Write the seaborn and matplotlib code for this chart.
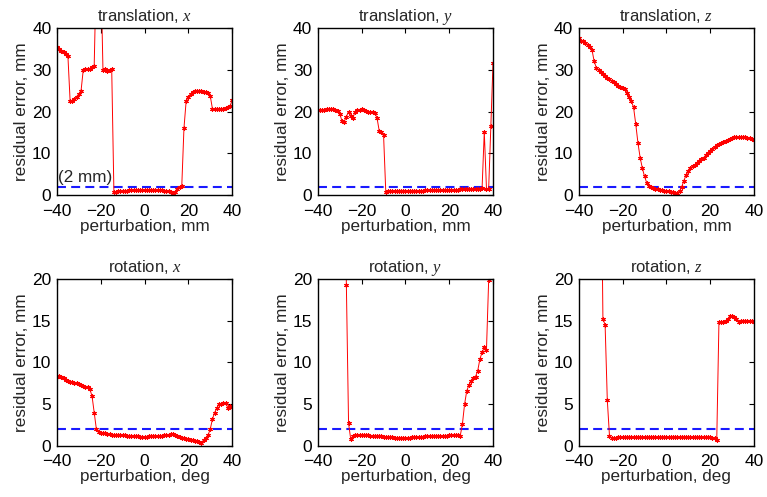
import matplotlib
matplotlib.use("Agg")
import matplotlib.pyplot as plt
import numpy as np
import pandas as pd
import seaborn as sns

# perturbation grid shared by all six panels (mm or deg)
perturbation = list(range(-40, 41))

trans_x = [35.5, 35.0, 34.6, 34.2, 33.8, 33.2, 22.5, 22.6, 23.0, 23.6,
           24.2, 25.0, 30.0, 30.1, 30.1, 30.3, 30.6, 31.0, 55.0, 60.0,
           55.0, 30.0, 30.1, 29.7, 30.0, 30.1, 0.8, 0.8, 0.9, 1.0,
           1.0, 1.1, 1.1, 1.2, 1.2, 1.2, 1.2, 1.2, 1.2, 1.2,
           1.2, 1.2, 1.2, 1.2, 1.2, 1.2, 1.2, 1.2, 1.2, 1.1,
           1.1, 1.0, 0.7, 0.4, 0.8, 1.5, 2.0, 2.1, 16.0, 22.5,
           23.5, 24.2, 24.7, 25.0, 25.0, 25.0, 25.0, 24.8, 24.6, 24.5,
           23.8, 20.7, 20.5, 20.5, 20.5, 20.5, 20.6, 20.8, 21.0, 21.3,
           22.7]

trans_y = [20.3, 20.3, 20.3, 20.4, 20.5, 20.5, 20.5, 20.5, 20.4, 20.2,
           19.5, 17.7, 17.6, 18.8, 20.0, 19.0, 18.5, 20.0, 20.3, 20.4,
           20.5, 20.3, 20.2, 20.0, 19.9, 19.8, 19.6, 18.5, 15.4, 15.0,
           14.3, 0.8, 1.0, 1.0, 1.0, 1.0, 1.0, 1.1, 1.1, 1.1,
           1.1, 1.1, 1.1, 1.1, 1.1, 1.1, 1.1, 1.1, 1.1, 1.2,
           1.2, 1.2, 1.2, 1.2, 1.2, 1.2, 1.2, 1.2, 1.2, 1.2,
           1.3, 1.3, 1.3, 1.3, 1.3, 1.4, 1.4, 1.4, 1.4, 1.5,
           1.5, 1.5, 1.5, 1.6, 1.6, 1.7, 15.2, 1.6, 1.5, 16.5,
           31.7]

trans_z = [37.5, 37.0, 36.8, 36.5, 36.0, 35.5, 34.8, 32.0, 30.5, 30.0,
           29.5, 29.0, 28.5, 28.0, 27.7, 27.3, 27.0, 26.6, 26.2, 26.0,
           25.6, 25.3, 24.5, 23.5, 22.5, 21.0, 17.0, 12.5, 9.0, 6.5,
           4.5, 3.0, 2.2, 2.0, 1.8, 1.6, 1.5, 1.3, 1.2, 1.1,
           1.0, 0.9, 0.8, 0.7, 0.6, 0.5, 1.0, 2.0, 3.5, 4.8,
           5.8, 6.5, 7.0, 7.3, 7.7, 8.2, 8.6, 9.0, 9.5, 10.0,
           10.5, 11.0, 11.6, 12.0, 12.3, 12.5, 12.8, 13.0, 13.2, 13.5,
           13.7, 13.9, 14.0, 14.0, 14.0, 14.0, 13.9, 13.8, 13.6, 13.5,
           13.3]

rot_x = [8.3, 8.4, 8.3, 8.1, 7.9, 7.8, 7.7, 7.6, 7.5, 7.5,
         7.4, 7.3, 7.2, 7.1, 7.0, 6.8, 6.0, 4.0, 2.0, 1.7,
         1.6, 1.5, 1.5, 1.4, 1.4, 1.35, 1.35, 1.3, 1.3, 1.3,
         1.3, 1.3, 1.25, 1.25, 1.25, 1.2, 1.2, 1.15, 1.1, 1.1,
         1.1, 1.1, 1.15, 1.15, 1.2, 1.2, 1.2, 1.25, 1.25, 1.3,
         1.3, 1.35, 1.4, 1.4, 1.3, 1.2, 1.1, 1.0, 0.9, 0.85,
         0.8, 0.75, 0.7, 0.65, 0.6, 0.5, 0.4, 0.7, 1.0, 1.3,
         2.0, 3.2, 4.0, 4.5, 5.0, 5.0, 5.2, 5.2, 4.6, 4.8,
         4.7]

rot_y = [40.0] * 13 + [19.2, 2.7, 0.8, 1.2, 1.3, 1.3, 1.3,
         1.3, 1.3, 1.3, 1.3, 1.25, 1.2, 1.2, 1.2, 1.15, 1.15,
         1.1, 1.1, 1.1, 1.05, 1.05, 1.0, 1.0, 1.0, 1.0, 1.0,
         1.0, 1.0, 1.0, 1.05, 1.05, 1.1, 1.1, 1.1, 1.1, 1.15,
         1.2, 1.2, 1.2, 1.2, 1.2, 1.2, 1.2, 1.25, 1.25, 1.25,
         1.3, 1.3, 1.3, 1.3, 1.3, 1.2, 2.6, 5.0, 6.6, 7.3,
         7.8, 8.1, 8.3, 9.0, 10.4, 11.2, 11.8, 11.5, 19.8, 40.0,
         40.0]

rot_z = [40.0] * 11 + [15.2, 14.5, 5.5, 1.2, 0.9, 1.0, 1.0, 1.1, 1.1] \
    + [1.1] * 40 + [
         1.05, 1.0, 0.9, 0.7, 14.8, 14.8, 14.8, 14.9, 15.2, 15.5,
         15.5, 15.4, 15.2, 14.8, 15.0, 15.0, 15.0, 15.0, 15.0, 14.9,
         14.8]

panels = [
    ("translation, $x$", trans_x, "perturbation, mm", 40, [0, 10, 20, 30, 40]),
    ("translation, $y$", trans_y, "perturbation, mm", 40, [0, 10, 20, 30, 40]),
    ("translation, $z$", trans_z, "perturbation, mm", 40, [0, 10, 20, 30, 40]),
    ("rotation, $x$", rot_x, "perturbation, deg", 20, [0, 5, 10, 15, 20]),
    ("rotation, $y$", rot_y, "perturbation, deg", 20, [0, 5, 10, 15, 20]),
    ("rotation, $z$", rot_z, "perturbation, deg", 20, [0, 5, 10, 15, 20]),
]
threshold = 2.0

sns.set_style("white")
plt.rcParams.update({
    "font.family": ["Liberation Sans", "DejaVu Sans"],
    "mathtext.fontset": "custom",
    "mathtext.it": "Liberation Serif:italic",
    "mathtext.rm": "Liberation Sans",
    "axes.edgecolor": "black",
    "axes.linewidth": 1.0,
})

fig, axes = plt.subplots(2, 3, figsize=(7.67, 4.97), dpi=100)
fig.subplots_adjust(left=0.0743, right=0.983, bottom=0.1026, top=0.9437,
                    wspace=0.49, hspace=0.50)

for ax, (title, values, xlabel, ymax, yticks) in zip(axes.flat, panels):
    df = pd.DataFrame({"perturbation": perturbation, "error": values})
    ax.axhline(threshold, color="#1a1aff", linestyle=(0, (4.3, 2.5)), linewidth=1.5)
    sns.lineplot(data=df, x="perturbation", y="error", ax=ax,
                 color="red", linewidth=0.7, marker=(6, 2, 0),
                 markersize=3.2, markeredgecolor="red", markeredgewidth=0.8)
    ax.set_xlim(-40, 40)
    ax.set_ylim(0, ymax)
    ax.set_xticks([-40, -20, 0, 20, 40])
    ax.set_yticks(yticks)
    ax.tick_params(direction="in", top=True, right=True, length=3.5,
                   width=0.8, labelsize=12.5, colors="black")
    ax.tick_params(axis="x", pad=6)
    ax.tick_params(axis="y", pad=4)
    ax.set_title(title, fontsize=12, pad=5)
    ax.set_xlabel(xlabel, fontsize=12.3, labelpad=0)
    ax.set_ylabel("residual error, mm", fontsize=12.3, labelpad=2)
    for spine in ax.spines.values():
        spine.set_visible(True)
        spine.set_color("black")

axes[0, 0].text(-39.5, 2.4, "(2 mm)", fontsize=12.3, va="bottom", ha="left")

fig.savefig("out.png", dpi=100, facecolor="white")
plt.close(fig)
